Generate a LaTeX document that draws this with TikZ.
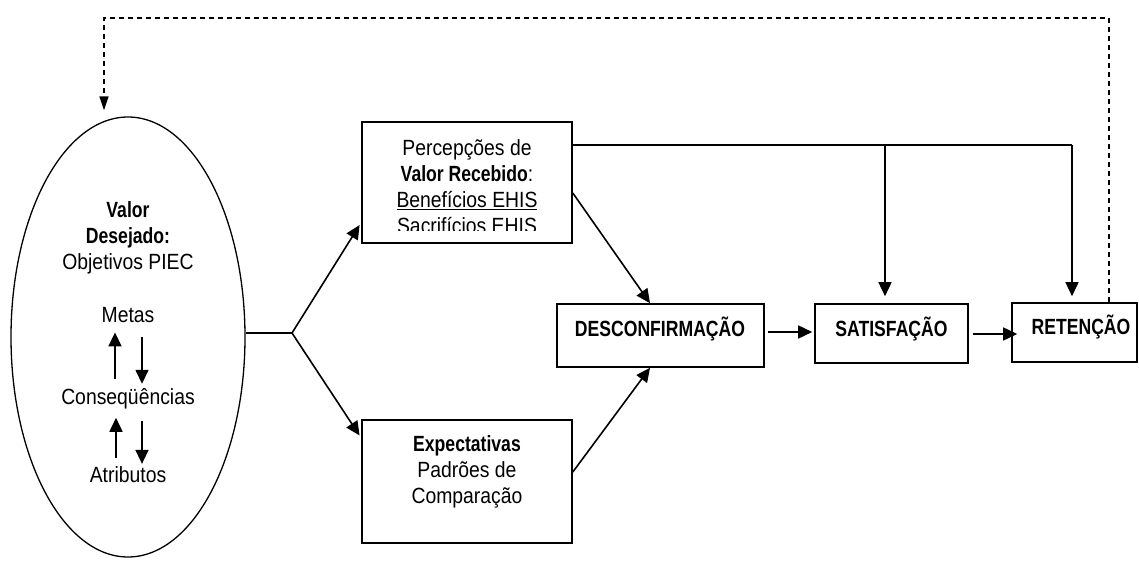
\documentclass[tikz,border=0pt]{standalone}
\usepackage{fontspec}
\setmainfont{Liberation Sans}[FakeStretch=0.88, BoldFeatures={FakeStretch=0.8}]
\usetikzlibrary{arrows.meta,positioning,shapes.geometric}
\providecommand{\modelLineWidth}{1.6pt}
\providecommand{\modelFont}{\fontsize{22}{26}\selectfont}
\tikzset{
  boxnode/.style={draw, line width=\modelLineWidth, inner sep=0pt},
  boxtxt/.style={inner sep=0pt, align=center, font=\modelFont},
  linktip/.style={line width=\modelLineWidth, -{Triangle[length=14pt,width=13pt]}},
  linkline/.style={line width=\modelLineWidth},
  backlink/.style={line width=\modelLineWidth, dash pattern=on 5pt off 4pt, -{Triangle[length=14pt,width=9pt]}}
}
\begin{document}
\begin{tikzpicture}[x=1pt, y=-1pt]
% page frame, pixel units of the figure
\useasboundingbox (0,0) rectangle (1139,561);
% Desired value ellipse
\node[ellipse, draw, line width=1.3pt, inner sep=0pt, minimum width=234pt, minimum height=440pt] (valdes) at (128,337) {};
\node[boxtxt, anchor=north] (valtit) at ([yshift=136pt]valdes.center) {\textbf{Valor}\\\textbf{Desejado:}\\Objetivos PIEC};
\node[boxtxt, anchor=base] (metas) at ([yshift=15pt]valdes.center) {Metas};
\node[boxtxt, anchor=base] (conseq) at ([yshift=-67pt]valdes.center) {Conseqüências};
\node[boxtxt, anchor=base] (atrib) at ([yshift=-145pt]valdes.center) {Atributos};
% Means-end chain arrows
\draw[linktip, shorten <=9pt, shorten >=10pt] ([xshift=-13pt]conseq.north) -- ([xshift=-13pt]metas.south);
\draw[linktip, shorten <=15pt, shorten >=4pt] ([xshift=14pt]metas.south) -- ([xshift=14pt]conseq.north);
\draw[linktip, shorten <=8pt, shorten >=9pt] ([xshift=-12pt]atrib.north) -- ([xshift=-12pt]conseq.south);
\draw[linktip, shorten <=12pt, shorten >=2pt] ([xshift=14pt]conseq.south) -- ([xshift=14pt]atrib.north);
% Boxes
\node[boxnode, minimum width=210pt, minimum height=121pt] (perc) at (467,182.5) {};
\node[boxnode, minimum width=210pt, minimum height=123pt] (expc) at (467,481.5) {};
\node[boxnode, minimum width=207pt, minimum height=63pt] (desc) at (660.5,335.5) {};
\node[boxnode, minimum width=153pt, minimum height=59pt] (satf) at (891.5,333.5) {};
\node[boxnode, minimum width=125pt, minimum height=59pt] (ret) at (1074.5,332.5) {};
% Box texts
\begin{scope}
  \clip (362,122) rectangle (572,231);
  \node[boxtxt, anchor=north] (perctxt) at ([yshift=-18pt]perc.north) {Percepções de\\\textbf{Valor Recebido}:\\\underline{Benefícios EHIS}\\Sacrifícios EHIS};
\end{scope}
\node[boxtxt, anchor=north] (expctxt) at ([yshift=-16pt]expc.north) {\textbf{Expectativas}\\Padrões de\\Comparação};
\node[boxtxt, anchor=base] (desctxt) at (660,336) {\textbf{DESCONFIRMAÇÃO}};
\node[boxtxt, anchor=base] (satftxt) at (891.5,336) {\textbf{SATISFAÇÃO}};
\node[boxtxt, anchor=base] (rettxt) at (1081,334) {\textbf{RETENÇÃO}};
% Connectors
\coordinate (split) at (292,333);
\coordinate (topm) at (885,145);
\coordinate (topr) at (1072,145);
\coordinate (fbk) at (104,18);
\draw[linkline] (split -| valdes.east) -- (split);
\draw[linktip, shorten >=3pt] (split) -- ([yshift=-40pt]perc.west);
\draw[linktip, shorten >=3pt] (split) -- ([yshift=43.5pt]expc.west);
\draw[linktip] ([yshift=-10.5pt]perc.east) -- ([xshift=-10.5pt]desc.north);
\draw[linktip] ([yshift=9.5pt]expc.east) -- ([xshift=-10.5pt]desc.south);
\draw[linktip, shorten <=3pt, shorten >=2pt] ([yshift=3.5pt]desc.east) -- ([yshift=3.5pt]desc.east -| satf.west);
\draw[linktip, shorten <=4pt, shorten >=-6pt] ([yshift=-0.5pt]satf.east) -- ([yshift=-0.5pt]satf.east -| ret.west);
\draw[linkline] ([yshift=37.5pt]perc.east) -- (topr);
\draw[linktip, shorten >=7pt] (topm) -- (topm |- satf.north);
\draw[linktip, shorten >=6pt] (topr) -- (topr |- ret.north);
% Feedback loop
\draw[backlink, shorten >=6pt] ([xshift=34.5pt]ret.north) |- (fbk) -- (fbk |- valdes.north);
\end{tikzpicture}
\end{document}
